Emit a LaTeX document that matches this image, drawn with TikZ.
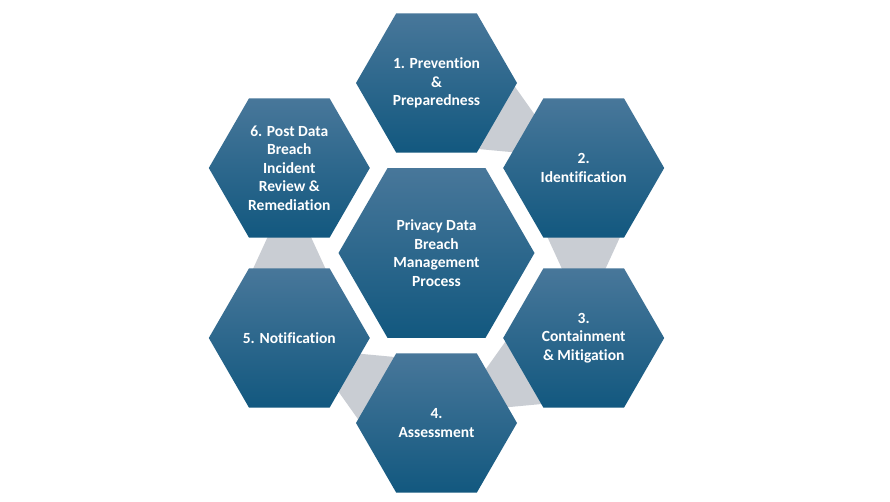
\documentclass[tikz,border=0pt]{standalone}
\usepackage{fontspec}
\setmainfont{Carlito}[Ligatures=CommonOff]
\usetikzlibrary{shapes.geometric,calc,backgrounds}
\definecolor{hextop}{HTML}{48779A}
\definecolor{hexbot}{HTML}{12587F}
\definecolor{linkgray}{HTML}{C9CDD3}

\begin{document}
\begin{tikzpicture}
  [x=1pt,y=1pt,
   hex/.style={regular polygon,regular polygon sides=6,minimum size=161pt,inner sep=0pt,
     top color=hextop,bottom color=hexbot,text=white,align=center,
     font=\fontsize{15.5}{18.5}\selectfont\bfseries},
   link/.style={fill=linkgray}]
  \useasboundingbox (0,0) rectangle (890,501);
  \node[hex,minimum size=196pt] (n0) at (436.5,248) {Privacy Data\\Breach\\Management\\Process};
  \node[hex] (n1) at (436.5,418) {1. Prevention\\\&\\Preparedness};
  \node[hex] (n2) at (583.7,333) {2.\\Identification};
  \node[hex] (n3) at (583.7,163) {3.\\Containment\\\& Mitigation};
  \node[hex] (n4) at (436.5,78)  {4.\\Assessment};
  \node[hex] (n5) at (289.3,163) {5. Notification};
  \node[hex] (n6) at (289.3,333) {6. Post Data\\Breach\\Incident\\Review \&\\Remediation};

  \begin{scope}[on background layer]
    \fill[white] (0,0) rectangle (890,501);
    \foreach \from/\to in {n1/n2,n2/n3,n3/n4,n4/n5,n5/n6}
      \fill[link] ($(\from)!.35!(\to)!40.7pt!90:(\to)$) -- ($(\from)!.35!(\to)!40.7pt!-90:(\to)$)
        -- ($(\from)!.65!(\to)!17.3pt!-90:(\to)$) -- ($(\from)!.65!(\to)!17.3pt!90:(\to)$) -- cycle;
  \end{scope}

\end{tikzpicture}
\end{document}
